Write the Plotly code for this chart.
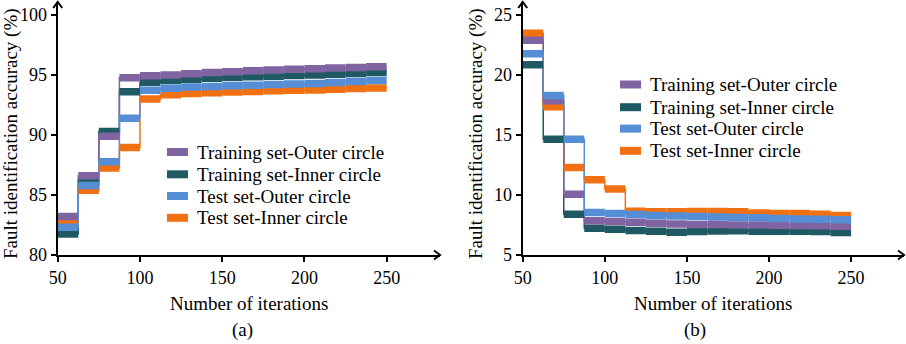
import plotly.graph_objects as go

# ---- data ----
edges = [50, 62.5, 75, 87.5, 100, 112.5, 125, 137.5, 150, 162.5, 175, 187.5, 200, 212.5, 225, 237.5, 250]
x_ticks = [50, 100, 150, 200, 250]
y_ticks_a = [80, 85, 90, 95, 100]
y_ticks_b = [5, 10, 15, 20, 25]

names = ["Training set-Outer circle", "Training set-Inner circle",
         "Test set-Outer circle", "Test set-Inner circle"]

train_outer_a = [83.2, 86.6, 89.9, 94.77, 94.93, 95.0, 95.1, 95.2, 95.27, 95.35, 95.42, 95.48, 95.53, 95.58, 95.63, 95.68]
train_inner_a = [81.75, 86.2, 90.3, 93.6, 94.4, 94.55, 94.65, 94.72, 94.8, 94.85, 94.9, 94.95, 95.0, 95.07, 95.12, 95.2]
test_outer_a = [82.32, 85.79, 87.78, 91.4, 93.73, 93.9, 94.0, 94.05, 94.1, 94.15, 94.2, 94.25, 94.3, 94.38, 94.45, 94.54]
test_inner_a = [82.8, 85.4, 87.25, 88.96, 93.0, 93.35, 93.45, 93.52, 93.58, 93.63, 93.68, 93.72, 93.76, 93.82, 93.87, 93.92]

train_outer_b = [22.89, 17.85, 10.07, 7.85, 7.8, 7.72, 7.65, 7.58, 7.55, 7.55, 7.5, 7.5, 7.48, 7.45, 7.43, 7.4]
train_inner_b = [20.86, 14.65, 8.4, 7.22, 7.15, 7.05, 6.98, 6.9, 6.95, 7.0, 7.02, 6.98, 6.98, 6.97, 6.95, 6.88]
test_outer_b = [21.78, 18.3, 14.65, 8.55, 8.45, 8.38, 8.3, 8.25, 8.2, 8.17, 8.12, 8.1, 8.05, 8.0, 7.97, 7.93]
test_inner_b = [23.47, 17.36, 12.29, 11.28, 10.51, 8.65, 8.6, 8.6, 8.62, 8.62, 8.6, 8.5, 8.45, 8.45, 8.4, 8.3]

colors = ["#8064A2", "#1F5A64", "#558ED5", "#F07012"]

FONT = "Liberation Serif"
W, H = 906, 344

fig = go.Figure()


def seg_xy(vals):
    xs, ys = [], []
    for i, v in enumerate(vals):
        xs += [edges[i], edges[i + 1], None]
        ys += [v, v, None]
    return xs, ys


panels = [
    ("x", "y", [train_outer_a, train_inner_a, test_outer_a, test_inner_a]),
    ("x2", "y2", [train_outer_b, train_inner_b, test_outer_b, test_inner_b]),
]
draw_order = [1, 3, 0, 2]  # bottom -> top

for xa, ya, series in panels:
    # thin step connectors
    for k in draw_order:
        fig.add_trace(go.Scatter(x=edges[:-1], y=series[k], mode="lines", line_shape="hv",
                                 line=dict(color=colors[k], width=1.5), showlegend=False,
                                 hoverinfo="skip", xaxis=xa, yaxis=ya))
    # thick horizontal steps
    for k in draw_order:
        xs, ys = seg_xy(series[k])
        fig.add_trace(go.Scatter(x=xs, y=ys, mode="lines", name=names[k],
                                 line=dict(color=colors[k], width=7.5), showlegend=False,
                                 xaxis=xa, yaxis=ya))


def px(xp):
    return xp / W


def py(yp):
    return 1 - yp / H


ax_common = dict(showline=True, linecolor="black", linewidth=2, ticks="outside", ticklen=5,
                 tickwidth=1.5, tickcolor="black", showgrid=False, zeroline=False,
                 automargin=False,
                 tickfont=dict(family=FONT, size=18, color="black"))

xa_l, xa_r, xb_l, xb_r = 57.7, 440, 522.7, 904
y_bot, y_top = 255, 2

fig.update_layout(
    width=W, height=H, margin=dict(l=0, r=0, t=0, b=0, autoexpand=False),
    plot_bgcolor="white", paper_bgcolor="white", showlegend=False,
    font=dict(family=FONT, size=19, color="black"),
    xaxis=dict(domain=[px(xa_l), px(xa_r)], range=[50, 50 + (xa_r - xa_l) / 1.645],
               tickvals=x_ticks, anchor="y", **ax_common),
    yaxis=dict(domain=[py(y_bot), py(y_top)], range=[80, 80 + (y_bot - y_top) / 12],
               tickvals=y_ticks_a, anchor="x", **ax_common),
    xaxis2=dict(domain=[px(xb_l), px(xb_r)], range=[50, 50 + (xb_r - xb_l) / 1.642],
                tickvals=x_ticks, anchor="y2", **ax_common),
    yaxis2=dict(domain=[py(y_bot), py(y_top)], range=[5, 5 + (y_bot - y_top) / 12],
                tickvals=y_ticks_b, anchor="x2", **ax_common),
)

shapes = []
ann = []
# arrow heads
for (ax_x, right_x) in [(xa_l, xa_r), (xb_l, xb_r)]:
    shapes.append(dict(type="path", xref="paper", yref="paper",
                       path=f"M {px(ax_x-4.5)},{py(y_top+6)} L {px(ax_x)},{py(y_top)} L {px(ax_x+4.5)},{py(y_top+6)}",
                       line=dict(color="black", width=2)))
    shapes.append(dict(type="path", xref="paper", yref="paper",
                       path=f"M {px(right_x-6)},{py(y_bot-4.5)} L {px(right_x)},{py(y_bot)} L {px(right_x-6)},{py(y_bot+4.5)}",
                       line=dict(color="black", width=2)))

# legends (swatch + text)
legend_pos = [
    (167, 188, 195, [152, 174.3, 196, 217.8]),
    (620, 641, 648, [84.5, 107.2, 128.6, 150.8]),
]
for sx0, sx1, tx, rows in legend_pos:
    for k, yc in enumerate(rows):
        shapes.append(dict(type="rect", xref="paper", yref="paper",
                           x0=px(sx0), x1=px(sx1), y0=py(yc + 4), y1=py(yc - 4),
                           fillcolor=colors[k], line=dict(width=0)))
        ann.append(dict(text=names[k], x=px(tx), y=py(yc), xref="paper", yref="paper",
                        showarrow=False, xanchor="left", yanchor="middle",
                        font=dict(family=FONT, size=19, color="black")))

# titles
for cx, ycx, lab, lx in [(249, 11, "(a)", 243), (713, 476, "(b)", 695)]:
    ann.append(dict(text="Number of iterations", x=px(cx), y=py(303), xref="paper", yref="paper",
                    showarrow=False, xanchor="center", yanchor="middle",
                    font=dict(family=FONT, size=19, color="black")))
    ann.append(dict(text=lab, x=px(lx), y=py(330), xref="paper", yref="paper",
                    showarrow=False, xanchor="center", yanchor="middle",
                    font=dict(family=FONT, size=19, color="black")))
    ann.append(dict(text="Fault identification accuracy (%)", x=px(ycx), y=py(134), xref="paper",
                    yref="paper", showarrow=False, textangle=-90, xanchor="center", yanchor="middle",
                    font=dict(family=FONT, size=19, color="black")))

fig.update_layout(shapes=shapes, annotations=ann)

fig.write_html("out.html", config={"displayModeBar": False},
               post_script="document.body.style.margin='0';document.body.style.overflow='hidden';")
